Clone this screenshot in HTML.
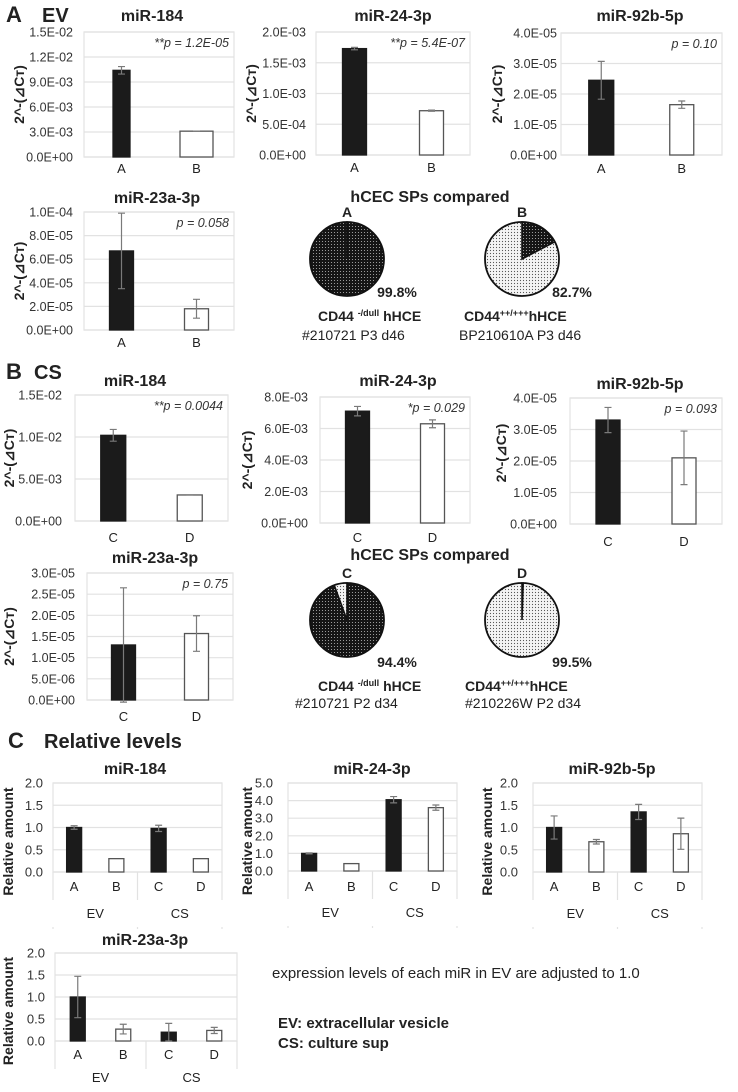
<!DOCTYPE html>
<html><head><meta charset="utf-8"><style>
html,body{margin:0;padding:0;background:#fff}
svg{display:block;font-family:"Liberation Sans",sans-serif}
</style></head><body>
<svg id="fig" width="738" height="1092" viewBox="0 0 738 1092" xmlns="http://www.w3.org/2000/svg">
<defs>
<pattern id="darkDots" width="3" height="3" patternUnits="userSpaceOnUse"><rect width="3" height="3" fill="#151515"/><circle cx="1.5" cy="1.5" r="0.55" fill="#bbb"/></pattern>
<pattern id="lightDots" width="3" height="3" patternUnits="userSpaceOnUse"><rect width="3" height="3" fill="#f4f4f4"/><circle cx="1.5" cy="1.5" r="0.6" fill="#555"/></pattern>
</defs>
<g id="root"></g>
</svg>
<script>
// ---- Data arrays ----
const abCats=['A','B'];
const cdCats=['C','D'];
const relCats=['A','B','C','D'];
const relGroups=['EV','CS'];

const evMir184Vals=[1.04e-2,3.1e-3];
const evMir184Errs=[0.045e-2,0.01e-3];
const evMir184Ticks=[0,3e-3,6e-3,9e-3,1.2e-2,1.5e-2];
const evMir184Labels=['0.0E+00','3.0E-03','6.0E-03','9.0E-03','1.2E-02','1.5E-02'];

const evMir24Vals=[1.73e-3,7.2e-4];
const evMir24Errs=[0.02e-3,0.1e-4];
const evMir24Ticks=[0,5e-4,1e-3,1.5e-3,2e-3];
const evMir24Labels=['0.0E+00','5.0E-04','1.0E-03','1.5E-03','2.0E-03'];

const evMir92Vals=[2.45e-5,1.65e-5];
const evMir92Errs=[0.62e-5,0.12e-5];
const evMir92Ticks=[0,1e-5,2e-5,3e-5,4e-5];
const evMir92Labels=['0.0E+00','1.0E-05','2.0E-05','3.0E-05','4.0E-05'];

const evMir23Vals=[6.7e-5,1.8e-5];
const evMir23Errs=[3.2e-5,0.8e-5];
const evMir23Ticks=[0,2e-5,4e-5,6e-5,8e-5,1e-4];
const evMir23Labels=['0.0E+00','2.0E-05','4.0E-05','6.0E-05','8.0E-05','1.0E-04'];

const csMir184Vals=[1.02e-2,3.1e-3];
const csMir184Errs=[0.07e-2,0.01e-3];
const csMir184Ticks=[0,5e-3,1e-2,1.5e-2];
const csMir184Labels=['0.0E+00','5.0E-03','1.0E-02','1.5E-02'];

const csMir24Vals=[7.1e-3,6.3e-3];
const csMir24Errs=[0.3e-3,0.25e-3];
const csMir24Ticks=[0,2e-3,4e-3,6e-3,8e-3];
const csMir24Labels=['0.0E+00','2.0E-03','4.0E-03','6.0E-03','8.0E-03'];

const csMir92Vals=[3.3e-5,2.1e-5];
const csMir92Errs=[0.4e-5,0.85e-5];
const csMir92Ticks=[0,1e-5,2e-5,3e-5,4e-5];
const csMir92Labels=['0.0E+00','1.0E-05','2.0E-05','3.0E-05','4.0E-05'];

const csMir23Vals=[1.3e-5,1.57e-5];
const csMir23Errs=[1.35e-5,0.42e-5];
const csMir23Ticks=[0,5e-6,1e-5,1.5e-5,2e-5,2.5e-5,3e-5];
const csMir23Labels=['0.0E+00','5.0E-06','1.0E-05','1.5E-05','2.0E-05','2.5E-05','3.0E-05'];

const relMir184Vals=[1.0,0.3,0.98,0.3];
const relMir184Errs=[0.04,0,0.07,0];
const relMir24Vals=[1.0,0.42,4.05,3.6];
const relMir24Errs=[0.03,0,0.18,0.15];
const relMir92Vals=[1.0,0.68,1.35,0.86];
const relMir92Errs=[0.26,0.05,0.17,0.35];
const relMir23Vals=[1.0,0.27,0.2,0.24];
const relMir23Errs=[0.47,0.11,0.2,0.07];
const rel2Ticks=[0,0.5,1.0,1.5,2.0];
const rel2Labels=['0.0','0.5','1.0','1.5','2.0'];
const rel5Ticks=[0,1,2,3,4,5];
const rel5Labels=['0.0','1.0','2.0','3.0','4.0','5.0'];

const pieA=[99.8]; const pieB=[17.3]; const pieC=[94.4]; const pieD=[0.5];

// ---- helpers ----
const NS='http://www.w3.org/2000/svg';
const root=document.getElementById('root');
function el(tag,attrs,parent,txt){
  const e=document.createElementNS(NS,tag);
  for(const k in attrs) e.setAttribute(k,attrs[k]);
  if(txt!==undefined) e.textContent=txt;
  (parent||root).appendChild(e);
  return e;
}
function txt(x,y,s,size,opts,parent){
  opts=opts||{};
  const t=el('text',{x:x,y:y,'font-size':size,'text-anchor':opts.anchor||'middle',fill:opts.fill||'#222','font-weight':opts.bold?'bold':'normal','font-style':opts.italic?'italic':'normal'},parent,s);
  if(opts.transform) t.setAttribute('transform',opts.transform);
  
  
  return t;
}

function barChart(o,cats,vals,errs,ticks,tickLabels){
  const g=el('g',{});
  
  
  const max=ticks[ticks.length-1];
  const ys=v=>o.yB-(v/max)*(o.yB-o.yT);
  const n=cats.length, w=o.x1-o.x0;
  const xc=i=>o.x0+w*(i+0.5)/n;
  ticks.forEach((t,i)=>{
    const ln=el('line',{x1:o.x0,x2:o.x1,y1:ys(t),y2:ys(t),stroke:'#e2e2e2','stroke-width':1.2},g);
    
    
    txt(o.tickRight,ys(t)+4.5,tickLabels[i],o.tickSize||12.5,{anchor:'end',fill:'#333',name:'y-tick-label'},g);
  });
  const box=el('rect',{x:o.x0,y:o.yT,width:w,height:o.yB-o.yT,fill:'none',stroke:'#e2e2e2','stroke-width':1.2},g);
  
  
  cats.forEach((c,i)=>{
    const bw=o.bw[i];
    const dark=(c==='A'||c==='C');
    const r=el('rect',{x:xc(i)-bw/2,y:ys(vals[i]),width:bw,height:o.yB-ys(vals[i]),fill:dark?'#1b1b1b':'#fff',stroke:dark?'#1b1b1b':'#555','stroke-width':1.3},g);
    
    
    if(errs[i]>0){
      const e=el('path',{d:`M${xc(i)},${ys(vals[i]+errs[i])}V${ys(vals[i]-errs[i])}M${xc(i)-3.5},${ys(vals[i]+errs[i])}h7M${xc(i)-3.5},${ys(vals[i]-errs[i])}h7`,stroke:'#7a7a7a','stroke-width':1.2,fill:'none'},g);
      
      
    }
    txt(xc(i),o.catY,c,13,{fill:'#222',name:'x-tick-label'},g);
  });
  if(o.groups){
    [o.x0,(o.x0+o.x1)/2,o.x1].forEach(x=>{
      const l=el('line',{x1:x,x2:x,y1:o.yB,y2:o.yB+28,stroke:'#e2e2e2','stroke-width':1.2},g);
      
      
      const d=el('line',{x1:x,x2:x,y1:o.yB+55,y2:o.yB+57,stroke:'#e2e2e2','stroke-width':1.2},g);
      
      
    });
    relGroups.forEach((gname,i)=>{
      txt(o.x0+w*(i+0.5)/2,o.yB+o.groupDy,gname,13,{fill:'#222',name:'group-label'},g);
    });
  }
  txt(o.titleX,o.titleY,o.title,16,{bold:true,fill:'#222',name:'chart-title'},g);
  if(o.p) txt(o.x1-5,o.yT+15,o.p,12.5,{italic:true,anchor:'end',fill:'#333',name:'p-value'},g);
  const ym=(o.yT+o.yB)/2+(o.ylabShift||0);
  txt(o.ylabX,ym,o.ylab,o.ylabSize||14,{bold:true,fill:'#222',transform:`rotate(-90 ${o.ylabX} ${ym})`,name:'y-axis-title'},g);
}

const YL='2^-(⊿Cᴛ)';
barChart({name:'ev-mir184-chart',x0:84,x1:234,yT:32,yB:157,bw:[17,33],tickRight:73,catY:173,title:'miR-184',titleX:152,titleY:21,p:'**p = 1.2E-05',ylab:YL,ylabX:24},abCats,evMir184Vals,evMir184Errs,evMir184Ticks,evMir184Labels);
barChart({name:'ev-mir24-chart',x0:316,x1:470,yT:32,yB:155,bw:[24,24],tickRight:306,catY:172,title:'miR-24-3p',titleX:393,titleY:21,p:'**p = 5.4E-07',ylab:YL,ylabX:256},abCats,evMir24Vals,evMir24Errs,evMir24Ticks,evMir24Labels);
barChart({name:'ev-mir92b-chart',x0:561,x1:722,yT:33,yB:155,bw:[25,24],tickRight:557,catY:173,title:'miR-92b-5p',titleX:640,titleY:21,p:'p = 0.10',ylab:YL,ylabX:502},abCats,evMir92Vals,evMir92Errs,evMir92Ticks,evMir92Labels);
barChart({name:'ev-mir23a-chart',x0:84,x1:234,yT:212,yB:330,bw:[24,24],tickRight:73,catY:347,title:'miR-23a-3p',titleX:157,titleY:203,p:'p = 0.058',ylab:YL,ylabX:24},abCats,evMir23Vals,evMir23Errs,evMir23Ticks,evMir23Labels);
barChart({name:'cs-mir184-chart',x0:75,x1:228,yT:395,yB:521,bw:[25,25],tickRight:62,catY:542,title:'miR-184',titleX:135,titleY:386,p:'**p = 0.0044',ylab:YL,ylabX:14},cdCats,csMir184Vals,csMir184Errs,csMir184Ticks,csMir184Labels);
barChart({name:'cs-mir24-chart',x0:320,x1:470,yT:397,yB:523,bw:[24,24],tickRight:308,catY:542,title:'miR-24-3p',titleX:398,titleY:386,p:'*p = 0.029',ylab:YL,ylabX:252},cdCats,csMir24Vals,csMir24Errs,csMir24Ticks,csMir24Labels);
barChart({name:'cs-mir92b-chart',x0:570,x1:722,yT:398,yB:524,bw:[24,24],tickRight:557,catY:546,title:'miR-92b-5p',titleX:640,titleY:389,p:'p = 0.093',ylab:YL,ylabX:506,ylabShift:-8},cdCats,csMir92Vals,csMir92Errs,csMir92Ticks,csMir92Labels);
barChart({name:'cs-mir23a-chart',x0:87,x1:233,yT:573,yB:700,bw:[24,24],tickRight:75,catY:721,title:'miR-23a-3p',titleX:155,titleY:563,p:'p = 0.75',ylab:YL,ylabX:14},cdCats,csMir23Vals,csMir23Errs,csMir23Ticks,csMir23Labels);
const RL='Relative amount';
barChart({name:'rel-mir184-chart',x0:53,x1:222,yT:783,yB:872,bw:[15,15,15,15],tickRight:43,tickSize:13,catY:891,groups:true,groupDy:46,title:'miR-184',titleX:135,titleY:774,ylab:RL,ylabX:13,ylabShift:14},relCats,relMir184Vals,relMir184Errs,rel2Ticks,rel2Labels);
barChart({name:'rel-mir24-chart',x0:288,x1:457,yT:783,yB:871,bw:[15,15,15,15],tickRight:273,tickSize:13,catY:891,groups:true,groupDy:46,title:'miR-24-3p',titleX:372,titleY:774,ylab:RL,ylabX:252,ylabShift:14},relCats,relMir24Vals,relMir24Errs,rel5Ticks,rel5Labels);
barChart({name:'rel-mir92b-chart',x0:533,x1:702,yT:783,yB:872,bw:[15,15,15,15],tickRight:518,tickSize:13,catY:891,groups:true,groupDy:46,title:'miR-92b-5p',titleX:612,titleY:774,ylab:RL,ylabX:492,ylabShift:14},relCats,relMir92Vals,relMir92Errs,rel2Ticks,rel2Labels);
barChart({name:'rel-mir23a-chart',x0:55,x1:237,yT:953,yB:1041,bw:[15,15,15,15],tickRight:45,tickSize:13,catY:1059,groups:true,groupDy:41,title:'miR-23a-3p',titleX:145,titleY:945,ylab:RL,ylabX:13,ylabShift:14},relCats,relMir23Vals,relMir23Errs,rel2Ticks,rel2Labels);

function pie(cx,cy,r,darkPct,startDeg,ccw,name){
  const g=el('g',{});
  
  
  const base=darkPct>50?'url(#darkDots)':'url(#lightDots)';
  const c=el('circle',{cx:cx,cy:cy,r:r,fill:base,stroke:'#111','stroke-width':1.8},g);
  
  
  const minorPct=darkPct>50?100-darkPct:darkPct;
  const minorFill=darkPct>50?'url(#lightDots)':'url(#darkDots)';
  const ang=minorPct/100*360;
  const a0=(startDeg-90)*Math.PI/180;
  const a1=(startDeg-90+(ccw?-ang:ang))*Math.PI/180;
  const p=el('path',{d:`M${cx},${cy}L${cx+r*Math.cos(a0)},${cy+r*Math.sin(a0)}A${r},${r} 0 ${ang>180?1:0} ${ccw?0:1} ${cx+r*Math.cos(a1)},${cy+r*Math.sin(a1)}Z`,fill:minorFill,stroke:'#111','stroke-width':1.6},g);
  
  
}
pie(347,259,37,pieA[0],0,false,'pie-a');
pie(522,259,37,pieB[0],0,false,'pie-b');
pie(347,620,37,pieC[0],0,true,'pie-c');
pie(522,620,37,pieD[0],0,false,'pie-d');

txt(6,22,'A',22,{anchor:'start',bold:true,name:'panel-label-a'});
txt(42,22,'EV',20,{anchor:'start',bold:true,name:'panel-title-ev'});
txt(6,379,'B',22,{anchor:'start',bold:true,name:'panel-label-b'});
txt(34,379,'CS',20,{anchor:'start',bold:true,name:'panel-title-cs'});
txt(8,748,'C',22,{anchor:'start',bold:true,name:'panel-label-c'});
txt(44,748,'Relative levels',20,{anchor:'start',bold:true,name:'panel-title-relative'});

txt(430,202,'hCEC SPs compared',16,{bold:true,name:'pie-section-title'});
txt(347,217,'A',14,{bold:true,name:'pie-label-a'});
txt(522,217,'B',14,{bold:true,name:'pie-label-b'});
txt(397,297,'99.8%',14,{bold:true,name:'pie-pct-a'});
txt(572,297,'82.7%',14,{bold:true,name:'pie-pct-b'});
const t1=txt(318,321,'CD44 ',14,{anchor:'start',bold:true,name:'pie-desc-a'});
el('tspan',{'font-size':9,dy:-5},t1,'-/dull');el('tspan',{dy:5},t1,' hHCE');
txt(302,340,'#210721 P3 d46',14,{anchor:'start',name:'pie-sample-a'});
const t2=txt(464,321,'CD44',14,{anchor:'start',bold:true,name:'pie-desc-b'});
el('tspan',{'font-size':9,dy:-5},t2,'++/+++');el('tspan',{dy:5},t2,'hHCE');
txt(459,340,'BP210610A P3 d46',14,{anchor:'start',name:'pie-sample-b'});

txt(430,560,'hCEC SPs compared',16,{bold:true,name:'pie-section-title-cs'});
txt(347,578,'C',14,{bold:true,name:'pie-label-c'});
txt(522,578,'D',14,{bold:true,name:'pie-label-d'});
txt(397,667,'94.4%',14,{bold:true,name:'pie-pct-c'});
txt(572,667,'99.5%',14,{bold:true,name:'pie-pct-d'});
const t3=txt(318,691,'CD44 ',14,{anchor:'start',bold:true,name:'pie-desc-c'});
el('tspan',{'font-size':9,dy:-5},t3,'-/dull');el('tspan',{dy:5},t3,' hHCE');
txt(295,708,'#210721 P2 d34',14,{anchor:'start',name:'pie-sample-c'});
const t4=txt(465,691,'CD44',14,{anchor:'start',bold:true,name:'pie-desc-d'});
el('tspan',{'font-size':9,dy:-5},t4,'++/+++');el('tspan',{dy:5},t4,'hHCE');
txt(465,708,'#210226W P2 d34',14,{anchor:'start',name:'pie-sample-d'});

txt(272,978,'expression levels of each miR in EV are adjusted to 1.0',15,{anchor:'start',name:'note-text'});
txt(278,1028,'EV: extracellular vesicle',15,{anchor:'start',bold:true,name:'legend-ev'});
txt(278,1048,'CS: culture sup',15,{anchor:'start',bold:true,name:'legend-cs'});
</script>
</body></html>
